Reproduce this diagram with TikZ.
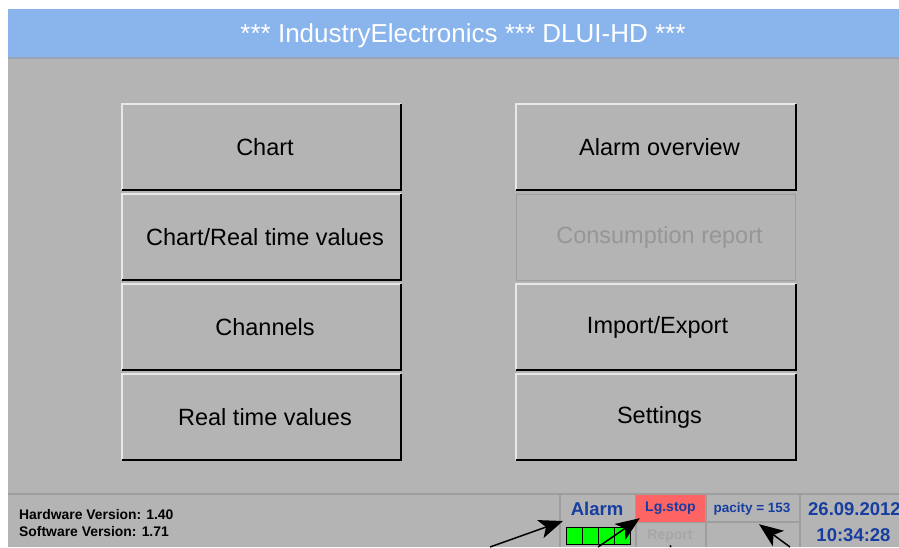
\documentclass[tikz,border=0pt]{standalone}
\usepackage{fontspec}
\setmainfont{Liberation Sans}
\usetikzlibrary{arrows.meta}

\definecolor{headblue}{RGB}{138,180,236}
\definecolor{panelgray}{RGB}{180,180,180}
\definecolor{textblue}{RGB}{22,62,160}
\definecolor{stopred}{RGB}{255,100,100}
\definecolor{ledgreen}{RGB}{0,255,0}
\definecolor{edgelight}{RGB}{232,232,232}
\definecolor{sepgray}{RGB}{158,158,158}
\definecolor{offgray}{RGB}{150,150,150}
\definecolor{dimgray}{RGB}{166,166,166}

\tikzset{
  btn/.style={minimum width=279pt, minimum height=86pt, inner sep=0pt, font=\fontsize{23.5}{28}\selectfont},
  stat/.style={inner sep=0pt, font=\bfseries\fontsize{14}{16}\selectfont, text=textblue},
  big/.style={inner sep=0pt, font=\bfseries\fontsize{18.5}{22}\selectfont, text=textblue},
  sep/.style={sepgray, line width=1.2pt},
  pointer/.style={line width=1.5pt, -{Stealth[length=24pt, width=19pt, inset=6pt]}},
}

\begin{document}
\begin{tikzpicture}[x=1pt, y=-1pt]
\useasboundingbox (0,0) rectangle (899,547);
% screen
\fill[white] (0,0) rectangle (899,547);
\fill[panelgray] (8,58) rectangle (899,547);
\fill[headblue] (8,9) rectangle (899,57);
\draw[sepgray!70!headblue, line width=2pt] (8,58) -- (899,58);
\node[text=white, inner sep=0pt, font=\fontsize{26}{30}\selectfont] (title) at (463,36) {*** IndustryElectronics *** DLUI-HD ***};

% menu buttons
\node[btn] (chart) at (261.5,147) {\hspace{7pt}Chart};
\node[btn] (chartrt) at (261.5,237) {\hspace{7pt}Chart/Real time values};
\node[btn] (channels) at (261.5,327) {\hspace{7pt}Channels};
\node[btn] (rtvalues) at (261.5,417) {\hspace{7pt}Real time values};
\node[btn] (alarmov) at (656,147) {\hspace{7pt}Alarm overview};
\node[btn, draw=sepgray, line width=1pt, text=offgray] (consump) at (656,237) {\hspace{7pt}Consumption report};
\node[btn] (importexp) at (656,327) {\hspace{3pt}Import/Export};
\node[btn] (settings) at (656,417) {\hspace{7pt}Settings};
\foreach \b in {chart,chartrt,channels,rtvalues,alarmov,importexp,settings} {
  \draw[edgelight, line width=2pt] (\b.south west) |- (\b.north east);
  \draw[black, line width=2pt] (\b.south west) -| (\b.north east);
}

% status bar
\draw[sep, line width=1.5pt] (8,494) -- (899,494);
\foreach \x in {560,636,706,800}
  \draw[sep] (\x,494) -- (\x,547);
\draw[sep] (636,522) -- (800,522);
\node[anchor=west, inner sep=0pt, font=\bfseries\fontsize{13.9}{16}\selectfont] (hwver) at (19,515) {Hardware Version: 1.40};
\node[anchor=west, inner sep=0pt, font=\bfseries\fontsize{13.9}{16}\selectfont] (swver) at (19,532) {Software Version: 1.71};

\node[big] (alarm) at (597,509) {Alarm};
\node[fill=ledgreen, draw=black, line width=1pt, minimum width=64pt, minimum height=17pt, inner sep=0pt, anchor=north west] (ledbar) at (566,527) {};
\foreach \i in {1,2,3}
  \draw[line width=1pt] ([xshift=16pt*\i]ledbar.north west) -- ([xshift=16pt*\i]ledbar.south west);

\node[stat, fill=stopred, minimum width=69pt, minimum height=27pt] (lgstop) at (670.5,508.5) {Lg.stop};
\node[stat, text=dimgray] (report) at (670,536) {Report};
\node[stat, font=\bfseries\fontsize{13.5}{15}\selectfont, minimum width=94pt, minimum height=27pt] (capcell) at (752,508.5) {pacity = 153};
\node[big, anchor=west] (date) at (808,509) {26.09.2012};
\node[big] (clock) at (853.5,535) {10:34:28};

% pointers
\coordinate (tail1) at (490,547);
\coordinate (tail2) at (598,547);
\coordinate (tail3) at (790,547);
\coordinate (tail4) at (671,547);
\draw[pointer] (tail1) -- ([shift={(-3pt,6pt)}]ledbar.north west);
\draw[pointer] (tail2) -- ([shift={(4pt,4pt)}]lgstop.south west);
\draw[pointer] (tail3) -- ([shift={(7pt,-2pt)}]capcell.south);
\draw[line width=1.5pt] (tail4) -- ([yshift=-3pt]report.south);

\end{tikzpicture}
\end{document}
